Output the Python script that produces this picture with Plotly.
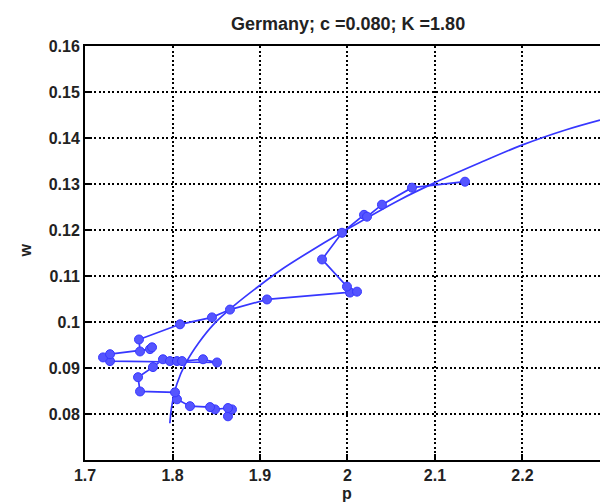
import plotly.graph_objects as go

# Smooth curve
curve_p = [1.797, 1.799, 1.805, 1.815, 1.830, 1.847, 1.870, 1.900, 1.923, 1.950,
           2.000, 2.060, 2.100, 2.150, 2.200, 2.250, 2.2886]
curve_w = [0.0780, 0.0815, 0.0865, 0.0910, 0.0955, 0.0995, 0.1035, 0.1080, 0.1112, 0.1145,
           0.1202, 0.1266, 0.1303, 0.1345, 0.1385, 0.1418, 0.1439]

# Data trajectory
traj_p = [1.8634, 1.868, 1.8634, 1.8486, 1.8429, 1.820, 1.8051, 1.8029, 1.7629, 1.7606,
          1.7777, 1.7891, 1.7971, 1.8051, 1.8109, 1.8349, 1.8509, 1.7286, 1.7206, 1.7286,
          1.7743, 1.7766, 1.7629, 1.7617, 1.8086, 1.8451, 1.8657, 1.9080, 2.0029, 2.0109,
          1.9994, 1.9709, 1.9937, 2.0189, 2.0223, 2.0394, 2.0737, 2.1343]
traj_w = [0.0795, 0.0810, 0.0813, 0.0810, 0.0815, 0.0817, 0.0832, 0.0847, 0.0849, 0.0880,
          0.0902, 0.0919, 0.0915, 0.0915, 0.0915, 0.0919, 0.0912, 0.0915, 0.0923, 0.0930,
          0.0941, 0.0945, 0.0936, 0.0962, 0.0995, 0.1010, 0.1027, 0.1049, 0.1064, 0.1066,
          0.1077, 0.1136, 0.1194, 0.1233, 0.1229, 0.1255, 0.1292, 0.1305]

x_ticks = [1.7, 1.8, 1.9, 2.0, 2.1, 2.2]
x_labels = ["1.7", "1.8", "1.9", "2", "2.1", "2.2"]
y_ticks = [0.08, 0.09, 0.10, 0.11, 0.12, 0.13, 0.14, 0.15, 0.16]
y_labels = ["0.08", "0.09", "0.1", "0.11", "0.12", "0.13", "0.14", "0.15", "0.16"]

title_text = "<b>Germany; c =0.080; K =1.80</b>"
blue = "rgb(55,55,255)"
font_family = "Liberation Sans, Arial, sans-serif"

fig = go.Figure()
fig.add_trace(go.Scatter(x=curve_p, y=curve_w, mode="lines",
                         line=dict(color=blue, width=1.7), line_shape="spline",
                         hoverinfo="skip", showlegend=False))
fig.add_trace(go.Scatter(x=traj_p, y=traj_w, mode="lines+markers",
                         line=dict(color=blue, width=1.7),
                         marker=dict(symbol="circle", size=9, color="rgb(85,85,255)",
                                     line=dict(color=blue, width=1)),
                         showlegend=False))

axis_common = dict(
    showgrid=True, gridcolor="black", gridwidth=1.5, griddash="2px,2.5px",
    showline=True, linecolor="black", linewidth=2,
    ticks="inside", ticklen=6, tickcolor="black", tickwidth=1.5,
    zeroline=False,
    tickfont=dict(family=font_family, size=16, color="#222", weight="bold"),
)

fig.update_xaxes(range=[1.7, 2.2886], tickvals=x_ticks, ticktext=x_labels,
                 mirror=True, **axis_common)
fig.update_yaxes(range=[0.07, 0.16], tickvals=y_ticks, ticktext=y_labels,
                 mirror=False, **axis_common)

fig.add_annotation(text=title_text, x=0.511, y=1.053, xref="paper", yref="paper",
                   showarrow=False, xanchor="center", yanchor="middle",
                   font=dict(family=font_family, size=18, color="#222"))
fig.add_annotation(text="<b>p</b>", x=0.509, y=-0.082, xref="paper", yref="paper",
                   showarrow=False, xanchor="center", yanchor="middle",
                   font=dict(family=font_family, size=16, color="#222"))
fig.add_annotation(text="<b>w</b>", x=-0.1146, y=0.506, xref="paper", yref="paper",
                   showarrow=False, xanchor="center", yanchor="middle", textangle=-90,
                   font=dict(family=font_family, size=16, color="#222"))

fig.update_layout(width=600, height=502, margin=dict(l=85, r=0, t=46, b=42),
                  plot_bgcolor="white", paper_bgcolor="white")

fig.write_html("out.html")
